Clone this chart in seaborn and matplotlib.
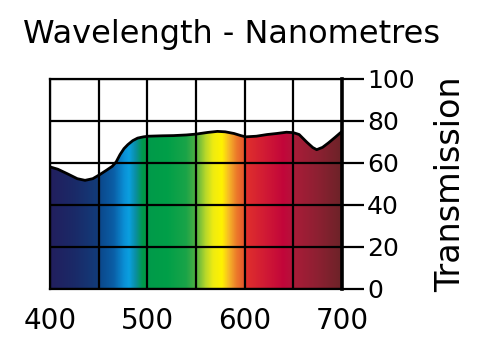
import matplotlib
matplotlib.use("Agg")
import matplotlib.pyplot as plt
import numpy as np
import pandas as pd
import seaborn as sns
from matplotlib.colors import LinearSegmentedColormap

# transmission curve
wavelength = [400, 408, 418, 428, 436, 444, 451, 458, 464, 468, 472, 476, 480, 485, 490,
              496, 501, 515, 527, 540, 550, 562, 572, 580, 589, 596, 601, 612, 623,
              633, 643, 650, 656, 664, 670, 674, 680, 686, 693, 700]
transmission = [58.1, 57.0, 54.8, 52.5, 51.7, 52.5, 54.4, 56.5, 58.4, 60.5, 64.0, 66.8,
                68.7, 70.6, 71.8, 72.4, 72.7, 72.9, 73.0, 73.3, 73.7, 74.5, 75.0, 74.8,
                74.0, 73.0, 72.4, 72.7, 73.5, 74.0, 74.6, 74.4, 73.5, 69.8, 67.3, 66.3,
                67.4, 69.5, 72.2, 75.0]

# spectrum colour stops behind the curve
stop_nm = [400, 425, 449, 452, 465, 476, 481, 488, 495, 520, 540, 550, 560, 568, 577,
           584, 592, 599, 601, 620, 640, 648, 652, 675, 700]
stop_colors = ["#221f5e", "#1a2a68", "#123c7a", "#0b4a8e", "#0a5ea6", "#0a90d6",
               "#0aa0e0", "#0a8ea0", "#00994a", "#009f48", "#1aa448", "#50b043",
               "#b8d82a", "#f0ec10", "#fff200", "#f6b828", "#ec7a2a", "#e65a2c",
               "#e0302c", "#d21c34", "#c2063a", "#b8103a", "#a81c38", "#8e2032",
               "#6c2328"]

x_ticks = [400, 450, 500, 550, 600, 650, 700]
x_labels = ["400", "", "500", "", "600", "", "700"]
y_ticks = [0, 20, 40, 60, 80, 100]


def main():
    sns.set_style("white")
    plt.rcParams['font.family'] = ['DejaVu Sans']
    plt.rcParams['text.color'] = 'black'
    plt.rcParams['axes.labelcolor'] = 'black'
    plt.rcParams['xtick.color'] = 'black'
    plt.rcParams['ytick.color'] = 'black'

    df = pd.DataFrame({"Wavelength": wavelength, "Transmission": transmission})

    fig = plt.figure(figsize=(5, 3.52), dpi=100)
    ax = fig.add_axes([0.1, 0.179, 0.584, 0.597])

    # colour gradient clipped under the curve
    span = np.array(stop_nm, dtype=float)
    pos = (span - span[0]) / (span[-1] - span[0])
    cmap = LinearSegmentedColormap.from_list("spectrum", list(zip(pos, stop_colors)))
    grad = np.linspace(0, 1, 900)[None, :]
    im = ax.imshow(grad, cmap=cmap, extent=[400, 700, 0, 100], aspect="auto",
                   origin="lower", zorder=0, interpolation="bilinear")
    poly = ax.fill_between(df["Wavelength"], df["Transmission"], 0,
                           facecolor="none", edgecolor="none")
    im.set_clip_path(poly.get_paths()[0], transform=ax.transData)

    sns.lineplot(data=df, x="Wavelength", y="Transmission", color="black",
                 linewidth=2, ax=ax, zorder=3)

    ax.set_xlim(400, 700)
    ax.set_ylim(0, 100)
    ax.set_xticks(x_ticks)
    ax.set_xticklabels(x_labels)
    ax.set_yticks(y_ticks)
    ax.yaxis.tick_right()
    ax.yaxis.set_label_position("right")
    ax.set_xlabel("")
    ax.set_ylabel("Transmission", fontsize=24, labelpad=14, color="black")

    ax.set_axisbelow(False)
    ax.grid(True, color="black", linewidth=1.6)
    ax.tick_params(axis="x", length=10, width=1.6, labelsize=20, pad=3,
                   color="black", labelcolor="black")
    ax.tick_params(axis="y", length=16, width=1.6, labelsize=18, pad=2,
                   color="black", labelcolor="black")
    for name, sp in ax.spines.items():
        sp.set_visible(True)
        sp.set_color("black")
        sp.set_linewidth(1.6)
    ax.spines["right"].set_linewidth(2.6)

    fig.text(0.046, 0.878, "Wavelength - Nanometres", fontsize=23, va="baseline",
             ha="left", color="black")

    fig.savefig("out.png", dpi=100)


if __name__ == "__main__":
    main()
